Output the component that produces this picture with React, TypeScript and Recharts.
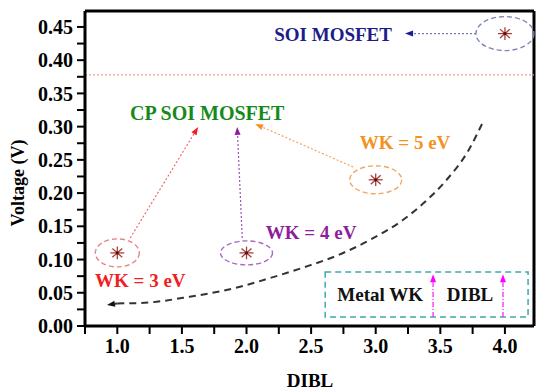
import React from 'react';
import {
  ComposedChart,
  Line,
  Scatter,
  XAxis,
  YAxis,
  ReferenceLine,
  ReferenceDot,
  ReferenceArea,
} from 'recharts';

// measured points
const dibl = [1.0, 2.0, 3.0, 4.0];
const voltage = [0.11, 0.11, 0.22, 0.44];

// trend curve
const curveX = [1.0, 1.18, 1.56, 1.95, 2.18, 2.44, 2.7, 2.96, 3.21, 3.38, 3.54, 3.72, 3.83];
const curveY = [0.034, 0.0346, 0.044, 0.059, 0.072, 0.088, 0.106, 0.13, 0.1595, 0.1866, 0.218, 0.265, 0.307];

const xTicks = [0.75, 1.0, 1.25, 1.5, 1.75, 2.0, 2.25, 2.5, 2.75, 3.0, 3.25, 3.5, 3.75, 4.0];
const yTicks = [
  0, 0.025, 0.05, 0.075, 0.1, 0.125, 0.15, 0.175, 0.2, 0.225, 0.25, 0.275, 0.3, 0.325,
  0.35, 0.375, 0.4, 0.425, 0.45,
];

const refLevel = 0.378;

// annotations
const labelText = ['SOI MOSFET', 'CP SOI MOSFET', 'WK = 5 eV', 'WK = 4 eV', 'WK = 3 eV', 'Metal WK', 'DIBL'];
const labelX = [2.67, 1.696, 3.227, 2.5, 1.178, 3.034, 3.73];
const labelY = [0.438, 0.3206, 0.2754, 0.14, 0.0692, 0.0467, 0.0467];

// arrows: from -> to
const arrowFromX = [1.1, 1.967, 2.825, 3.776, 3.444, 3.985, 1.0];
const arrowFromY = [0.1325, 0.1325, 0.2393, 0.44, 0.0135, 0.0135, 0.034];
const arrowToX = [1.626, 1.928, 2.067, 3.227, 3.444, 3.985, 0.92];
const arrowToY = [0.2995, 0.2995, 0.304, 0.44, 0.078, 0.078, 0.0315];

const X_MIN = 0.75;
const X_MAX = 4.225;
const Y_MAX = 0.474;

const FONT = "'Liberation Serif', 'Times New Roman', serif";

const labelColors = ['#1c1c8c', '#17891b', '#f39223', '#8d1f9b', '#f01e22', '#111', '#111'];
const labelSizes = [19, 20, 19, 19, 19, 19, 19];

const ellipseColors = ['#e88585', '#a66ac4', '#f0a760', '#7c86b4'];
const ellipseRx = [22, 26, 26, 29];
const ellipseRy = [14, 12, 14, 17];

const arrowColors = ['#f06a6a', '#a050c0', '#f4a35a', '#6f7db4', '#ff22ff', '#ff22ff', '#333'];
const arrowHeads = ['#f01e22', '#8d1f9b', '#f39223', '#1c1c8c', '#ff00ff', '#ff00ff', '#111'];
const arrowDash = ['2 2', '2 2', '2 2', '2 2', '5 2 1 2', '5 2 1 2', '7 5'];
const arrowWidth = [1.2, 1.2, 1.2, 1.2, 1.3, 1.3, 2];

const curveData = curveX.map((x, i) => ({ x, y: curveY[i] }));
const pointData = dibl.map((x, i) => ({ x, y: voltage[i] }));

const fmtX = (v: number) => (Math.abs(v * 2 - Math.round(v * 2)) < 1e-6 ? v.toFixed(1) : '');
const fmtY = (v: number) => (Math.abs(v * 20 - Math.round(v * 20)) < 1e-6 ? v.toFixed(2) : '');

const makeArrow = (i: number) => (p: any) => {
  const { x1, y1, x2, y2 } = p;
  const a = Math.atan2(y2 - y1, x2 - x1);
  const len = 8;
  const half = 3;
  const bx = x2 - len * Math.cos(a);
  const by = y2 - len * Math.sin(a);
  const nx = -Math.sin(a);
  const ny = Math.cos(a);
  return (
    <g>
      <line
        x1={x1}
        y1={y1}
        x2={bx}
        y2={by}
        stroke={arrowColors[i]}
        strokeWidth={arrowWidth[i]}
        strokeDasharray={arrowDash[i]}
      />
      <polygon
        points={`${x2},${y2} ${bx + nx * half},${by + ny * half} ${bx - nx * half},${by - ny * half}`}
        fill={arrowHeads[i]}
      />
    </g>
  );
};

const makeLabel = (i: number) => (p: any) => (
  <text
    x={p.cx}
    y={p.cy}
    textAnchor="middle"
    dominantBaseline="central"
    fill={labelColors[i]}
    fontSize={labelSizes[i]}
    fontWeight="bold"
    fontFamily={FONT}
  >
    {labelText[i]}
  </text>
);

const makeEllipse = (i: number) => (p: any) => (
  <ellipse
    cx={p.cx}
    cy={p.cy}
    rx={ellipseRx[i]}
    ry={ellipseRy[i]}
    fill="none"
    stroke={ellipseColors[i]}
    strokeWidth={1.4}
    strokeDasharray="5 3"
  />
);

const StarMark = (p: any) => {
  const { cx, cy } = p;
  const r = 7;
  const rays = [0, 45, 90, 135].map((d) => {
    const t = (d * Math.PI) / 180;
    return (
      <line
        key={d}
        x1={cx - r * Math.cos(t)}
        y1={cy - r * 0.9 * Math.sin(t)}
        x2={cx + r * Math.cos(t)}
        y2={cy + r * 0.9 * Math.sin(t)}
        stroke="#a8413c"
        strokeWidth={1.3}
      />
    );
  });
  return (
    <g>
      {rays}
      <circle cx={cx} cy={cy} r={1.6} fill="#5a0f0f" />
    </g>
  );
};

const tickStyle = { fill: '#000', fontSize: 20, fontWeight: 'bold', fontFamily: FONT };

export default function App() {
  return (
    <div style={{ position: 'absolute', left: 0, top: 0, background: '#fff', fontFamily: FONT }}>
      <style>{`.recharts-cartesian-axis-tick-value { font-family: ${FONT}; font-weight: bold; }`}</style>
      <ComposedChart width={536} height={389} margin={{ top: 11, right: 2, left: 0, bottom: 0 }}>
        <XAxis
          type="number"
          dataKey="x"
          domain={[X_MIN, X_MAX]}
          ticks={xTicks}
          tickFormatter={fmtX}
          allowDataOverflow
          height={63}
          stroke="#000"
          axisLine={{ strokeWidth: 3 }}
          tickLine={{ strokeWidth: 2 }}
          tickSize={8}
          tickMargin={5}
          tick={tickStyle}
          label={{
            content: () => (
              <text x={310} y={380} textAnchor="middle" dominantBaseline="central" fontSize={19} fontWeight="bold" fontFamily={FONT} fill="#000">
                DIBL
              </text>
            ),
          }}
        />
        <YAxis
          type="number"
          domain={[0, Y_MAX]}
          ticks={yTicks}
          tickFormatter={fmtY}
          allowDataOverflow
          width={85}
          stroke="#000"
          axisLine={{ strokeWidth: 3 }}
          tickLine={{ strokeWidth: 2 }}
          tickSize={8}
          tickMargin={4}
          tick={tickStyle}
          label={{
            content: () => (
              <text
                x={18}
                y={183}
                transform="rotate(-90 18 183)"
                textAnchor="middle"
                dominantBaseline="central"
                fontSize={18}
                fontWeight="bold"
                fontFamily={FONT}
                fill="#000"
              >
                Voltage (V)
              </text>
            ),
          }}
        />

        <ReferenceLine y={Y_MAX} stroke="#000" strokeWidth={3} />
        <ReferenceLine x={X_MAX} stroke="#000" strokeWidth={3} />
        <ReferenceLine y={refLevel} stroke="#f2a08c" strokeWidth={1.2} strokeDasharray="2 2" />

        <ReferenceArea
          x1={2.609}
          x2={4.179}
          y1={0.0135}
          y2={0.0813}
          fill="none"
          stroke="#3fa9a9"
          strokeWidth={1.5}
          strokeDasharray="6 4"
        />

        <Line
          data={curveData}
          dataKey="y"
          type="monotone"
          stroke="#333"
          strokeWidth={2}
          strokeDasharray="7 5"
          dot={false}
          activeDot={false}
          isAnimationActive={false}
        />

        {arrowFromX.map((x, i) => (
          <ReferenceLine
            key={'a' + i}
            segment={[
              { x, y: arrowFromY[i] },
              { x: arrowToX[i], y: arrowToY[i] },
            ]}
            shape={makeArrow(i)}
          />
        ))}

        {dibl.map((x, i) => (
          <ReferenceDot key={'e' + i} x={x} y={voltage[i]} r={1} shape={makeEllipse(i)} />
        ))}

        <Scatter data={pointData} dataKey="y" shape={StarMark} isAnimationActive={false} />

        {labelText.map((t, i) => (
          <ReferenceDot key={'l' + i} x={labelX[i]} y={labelY[i]} r={1} shape={makeLabel(i)} />
        ))}
      </ComposedChart>
    </div>
  );
}
